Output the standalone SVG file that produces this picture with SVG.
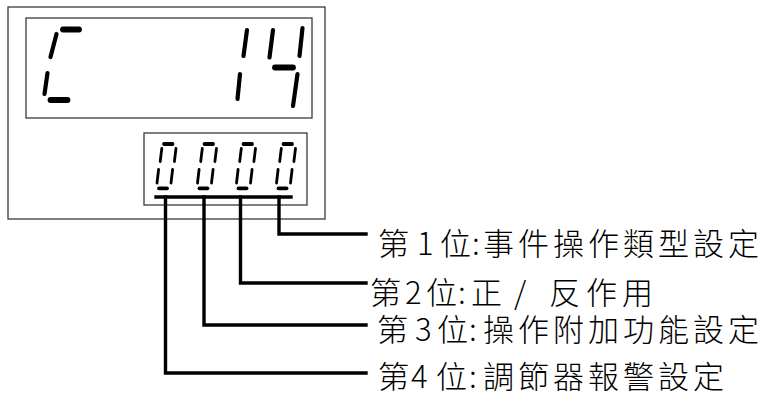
<svg xmlns="http://www.w3.org/2000/svg" xmlns:xlink="http://www.w3.org/1999/xlink" width="764" height="396" viewBox="0 0 764 396">
<style>
.frame{fill:none;stroke:#3a3a3a;stroke-width:1.3}
.sv{stroke:#000;stroke-width:4.2;stroke-linecap:round;fill:none}
.sh{stroke:#000;stroke-width:5.8;stroke-linecap:round;fill:none}
.dv{stroke:#000;stroke-width:2.8;stroke-linecap:round;fill:none}
.dh{stroke:#000;stroke-width:3.8;stroke-linecap:round;fill:none}
.wire{stroke:#000;stroke-width:3.4;fill:none;stroke-linecap:square;stroke-linejoin:miter}
.lbl{font-family:"Noto Sans CJK TC","Noto Sans CJK SC",sans-serif;font-size:31px;font-weight:300;fill:#000}
</style>
<defs>
<g id="zero">
<line class="dh" x1="164" y1="144" x2="172.5" y2="144"/>
<line class="dv" x1="161.8" y1="148.5" x2="160.2" y2="161.5"/>
<line class="dv" x1="176" y1="148.5" x2="174.4" y2="161.5"/>
<line class="dv" x1="158.6" y1="169.5" x2="157" y2="183"/>
<line class="dv" x1="172.6" y1="169.5" x2="171" y2="183"/>
<line class="dh" x1="159" y1="188.3" x2="167" y2="188.3"/>
</g>
</defs>
<rect width="764" height="396" fill="#fff"/>
<g id="housing">
<rect class="frame" x="8" y="7" width="317" height="212"/>
</g>
<g id="main-display">
<rect class="frame" x="26" y="18" width="286" height="100"/>
<line class="sh" x1="63" y1="29.5" x2="79" y2="29.5"/>
<line class="sv" x1="56.5" y1="34" x2="50.5" y2="57"/>
<line class="sv" x1="47.5" y1="73" x2="44.5" y2="94"/>
<line class="sh" x1="50.5" y1="100" x2="67.5" y2="100"/>
<line class="sv" x1="247" y1="30" x2="243.5" y2="56"/>
<line class="sv" x1="240" y1="74" x2="237.5" y2="99"/>
<line class="sv" x1="273" y1="30" x2="269.5" y2="57.5"/>
<line class="sv" x1="302.5" y1="28" x2="299.5" y2="56"/>
<line class="sh" x1="275" y1="67.5" x2="293" y2="67.5"/>
<line class="sv" x1="297.5" y1="74" x2="293" y2="106"/>
</g>
<g id="sub-display">
<rect class="frame" x="144" y="133" width="163" height="72"/>
<use xlink:href="#zero"/>
<use xlink:href="#zero" transform="translate(40.5,0)"/>
<use xlink:href="#zero" transform="translate(79.5,0)"/>
<use xlink:href="#zero" transform="translate(119.5,0)"/>
</g>
<g id="connectors">
<line class="wire" x1="156" y1="197" x2="291" y2="197"/>
<polyline class="wire" points="279,197 279,234 366,234"/>
<polyline class="wire" points="240.5,197 240.5,283 366,283"/>
<polyline class="wire" points="204,197 204,325 366,325"/>
<polyline class="wire" points="165.5,197 165.5,373 366,373"/>
</g>
<g id="label-1">
<text class="lbl" y="255" x="378 406 417 433 440 472 483 518 553 588 623 658 693 728">第 1 位:事件操作類型設定</text>
</g>
<g id="label-2">
<text class="lbl" y="304" x="370 398 405 417 426 458 471 498 514 530 549 586 622">第 2 位:正 / 反作用</text>
</g>
<g id="label-3">
<text class="lbl" y="340.5" x="377 405 415 429 437 469 483 518 553 588 623 658 693 728">第 3 位:操作附加功能設定</text>
</g>
<g id="label-4">
<text class="lbl" y="387.5" x="378 406 411 429 436 469 483 518 553 588 623 658 693">第 4 位:調節器報警設定</text>
</g>
</svg>
